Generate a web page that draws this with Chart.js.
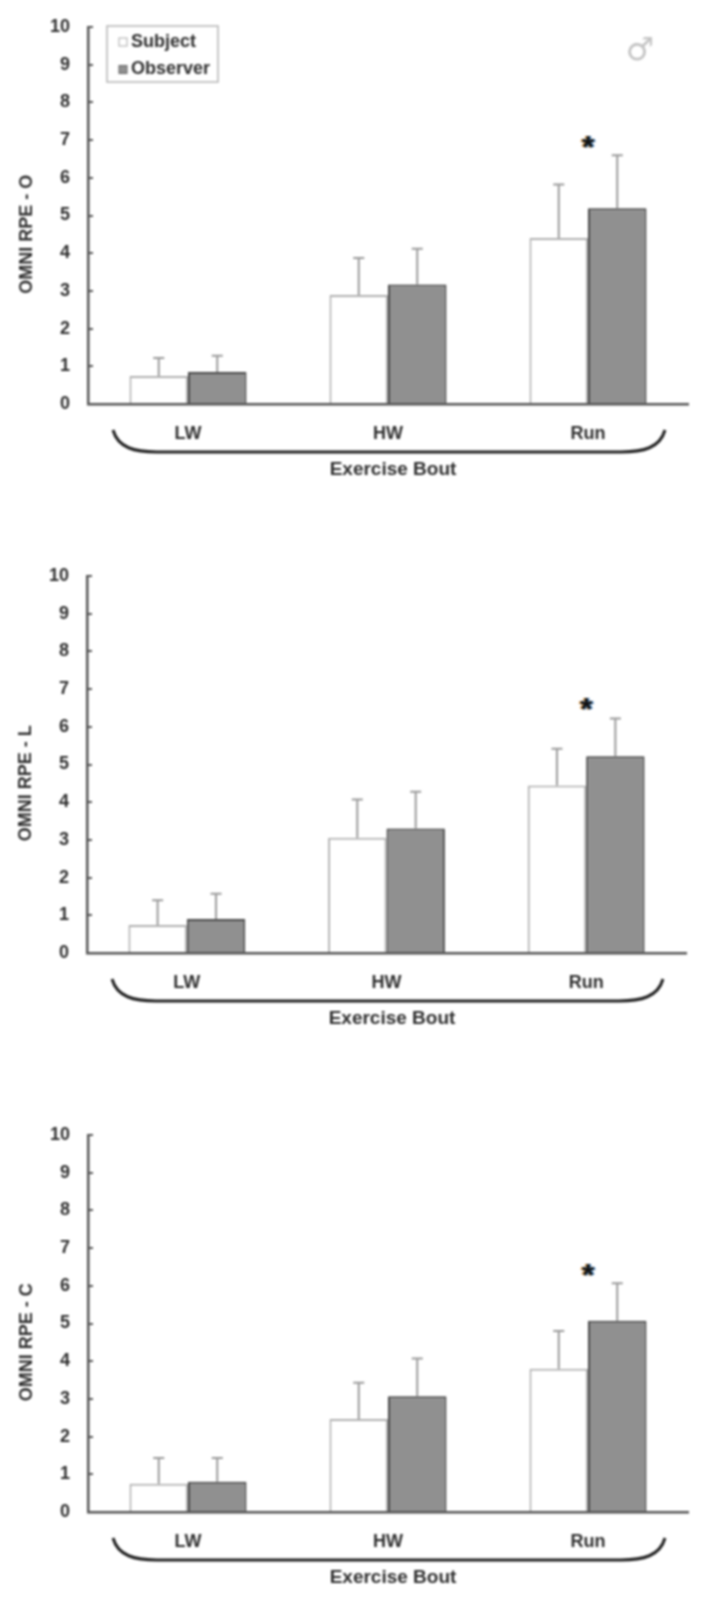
<!DOCTYPE html>
<html>
<head>
<meta charset="utf-8">
<title>OMNI RPE by exercise bout</title>
<script src="https://cdn.jsdelivr.net/npm/chart.js@4/dist/chart.umd.min.js"></script>
<style>
  html, body { margin: 0; padding: 0; background: #fff; }
  body { position: relative; width: 713px; height: 1601px; overflow: hidden; }
  canvas { position: absolute; filter: blur(0.9px); }
</style>
</head>
<body>
<canvas id="chartO" width="713" height="500" style="left:0;top:0"></canvas>
<canvas id="chartL" width="713" height="500" style="left:-1px;top:549px"></canvas>
<canvas id="chartC" width="713" height="493" style="left:0;top:1108px"></canvas>
<script>
const categories = ['LW', 'HW', 'Run'];
const yTicks = [0, 1, 2, 3, 4, 5, 6, 7, 8, 9, 10];

// Bar heights and the tops of the error bars
const subjectO = [0.74, 2.89, 4.4];
const observerO = [0.85, 3.17, 5.19];
const subjectTopO = [1.22, 3.87, 5.82];
const observerTopO = [1.28, 4.12, 6.6];
const starO = 6.93;

const subjectL = [0.74, 3.06, 4.44];
const observerL = [0.9, 3.3, 5.22];
const subjectTopL = [1.4, 4.07, 5.42];
const observerTopL = [1.57, 4.28, 6.22];
const starL = 6.58;

const subjectC = [0.75, 2.47, 3.8];
const observerC = [0.8, 3.07, 5.07];
const subjectTopC = [1.43, 3.43, 4.8];
const observerTopC = [1.43, 4.07, 6.07];
const starC = 6.38;

const TEXT = '#2e2e2e';
const AXIS = '#555555';
const WHISKER = '#9a9a9a';
const FONT = '"Liberation Sans", Arial, sans-serif';

// Error bars, bracket, star, axis titles and legend
const extras = {
    id: 'extras',
    afterDatasetsDraw(chart, args, opts) {
        const { ctx, chartArea: area, scales: { x, y } } = chart;
        ctx.save();

        // whiskers
        opts.tops.forEach((tops, d) => {
            const bars = chart.getDatasetMeta(d).data;
            tops.forEach((top, i) => {
                const px = bars[i].x;
                ctx.strokeStyle = WHISKER;
                ctx.lineWidth = 2;
                ctx.beginPath();
                ctx.moveTo(px, y.getPixelForValue(chart.data.datasets[d].data[i]));
                ctx.lineTo(px, y.getPixelForValue(top));
                ctx.moveTo(px - 5.5, y.getPixelForValue(top));
                ctx.lineTo(px + 5.5, y.getPixelForValue(top));
                ctx.stroke();
            });
        });

        // bracket under the categories
        const left = area.left + 25, right = area.right - 23;
        const top = area.bottom + 26, bottom = area.bottom + 48;
        ctx.strokeStyle = '#222222';
        ctx.lineWidth = 3;
        ctx.beginPath();
        ctx.moveTo(left, top);
        ctx.bezierCurveTo(left + 5, bottom - 4, left + 22, bottom, left + 44, bottom);
        ctx.lineTo(right - 44, bottom);
        ctx.bezierCurveTo(right - 22, bottom, right - 5, bottom - 4, right, top);
        ctx.stroke();

        ctx.fillStyle = TEXT;
        ctx.font = `bold 19px ${FONT}`;
        ctx.textAlign = 'center';
        ctx.textBaseline = 'middle';
        ctx.fillText('Exercise Bout', area.left + 305, area.bottom + 66);

        // y axis title
        ctx.save();
        ctx.translate(27, y.getPixelForValue(4.5));
        ctx.rotate(-Math.PI / 2);
        ctx.font = `bold 18px ${FONT}`;
        ctx.fillText(opts.yTitle, 0, 0);
        ctx.restore();

        // significance star above the Run group, with the colour fringe it has in the scan
        const starX = x.getPixelForValue(2), starY = y.getPixelForValue(opts.star) + 6;
        ctx.font = `bold 32px ${FONT}`;
        ctx.fillStyle = '#e0a050';
        ctx.fillText('*', starX - 1.5, starY);
        ctx.fillStyle = '#4080c0';
        ctx.fillText('*', starX + 1.5, starY);
        ctx.fillStyle = '#111';
        ctx.fillText('*', starX, starY);

        if (opts.legend) {
            const boxX = area.left + 19, boxY = 26;
            ctx.strokeStyle = '#b5b5b5';
            ctx.lineWidth = 1.5;
            ctx.strokeRect(boxX, boxY, 111, 56);
            ctx.textAlign = 'left';
            chart.data.datasets.forEach((ds, i) => {
                const rowY = boxY + 16 + i * 27.5;
                ctx.fillStyle = ds.backgroundColor;
                ctx.strokeStyle = i === 0 ? '#aaaaaa' : '#666666';
                ctx.lineWidth = 1;
                ctx.fillRect(boxX + 12, rowY - 4, 8, 8);
                ctx.strokeRect(boxX + 12, rowY - 4, 8, 8);
                ctx.fillStyle = TEXT;
                ctx.font = `bold 18px ${FONT}`;
                ctx.fillText(ds.label, boxX + 24, rowY);
            });

            ctx.fillStyle = '#c4c4c4';
            ctx.textAlign = 'center';
            ctx.font = '32px "DejaVu Sans"';
            ctx.fillText('\u2642', 640, 52);
        }
        ctx.restore();
    }
};

function drawPanel(id, subject, observer, subjectTop, observerTop, star, yTitle, legend, paddingRight) {
    new Chart(document.getElementById(id), {
        type: 'bar',
        data: {
            labels: categories,
            datasets: [
                { label: 'Subject', data: subject, backgroundColor: '#ffffff', borderColor: '#b0b0b0', borderWidth: 2 },
                { label: 'Observer', data: observer, backgroundColor: '#909090', borderColor: '#4a4a4a', borderWidth: 2 }
            ]
        },
        options: {
            responsive: false,
            animation: false,
            layout: { padding: { top: 27, right: paddingRight, left: 0, bottom: 0 } },
            datasets: { bar: { categoryPercentage: 0.585, barPercentage: 1 } },
            scales: {
                x: {
                    afterFit: scale => { scale.height = scale.chart.height - 404; },
                    grid: { display: false },
                    border: { color: AXIS, width: 2.5 },
                    ticks: { color: TEXT, font: { family: FONT, size: 18, weight: 'bold' }, padding: 11, maxRotation: 0 }
                },
                y: {
                    min: 0,
                    max: 10,
                    afterFit: scale => {
                        scale.width = 88;
                        // plot area is set by the layout padding only
                        scale.paddingTop = 0;
                        scale.paddingBottom = 0;
                    },
                    afterBuildTicks: scale => { scale.ticks = yTicks.map(value => ({ value })); },
                    grid: { drawOnChartArea: false, color: AXIS, lineWidth: 2, tickLength: -5 },
                    border: { color: AXIS, width: 2.5 },
                    ticks: { color: TEXT, font: { family: FONT, size: 18, weight: 'bold' }, padding: 23 }
                }
            },
            plugins: {
                legend: { display: false },
                tooltip: { enabled: false },
                extras: { tops: [subjectTop, observerTop], star, yTitle, legend }
            }
        },
        plugins: [extras]
    });
}

drawPanel('chartO', subjectO, observerO, subjectTopO, observerTopO, starO, 'OMNI RPE - O', true, 25);
drawPanel('chartL', subjectL, observerL, subjectTopL, observerTopL, starL, 'OMNI RPE - L', false, 26);
drawPanel('chartC', subjectC, observerC, subjectTopC, observerTopC, starC, 'OMNI RPE - C', false, 25);
</script>
</body>
</html>
